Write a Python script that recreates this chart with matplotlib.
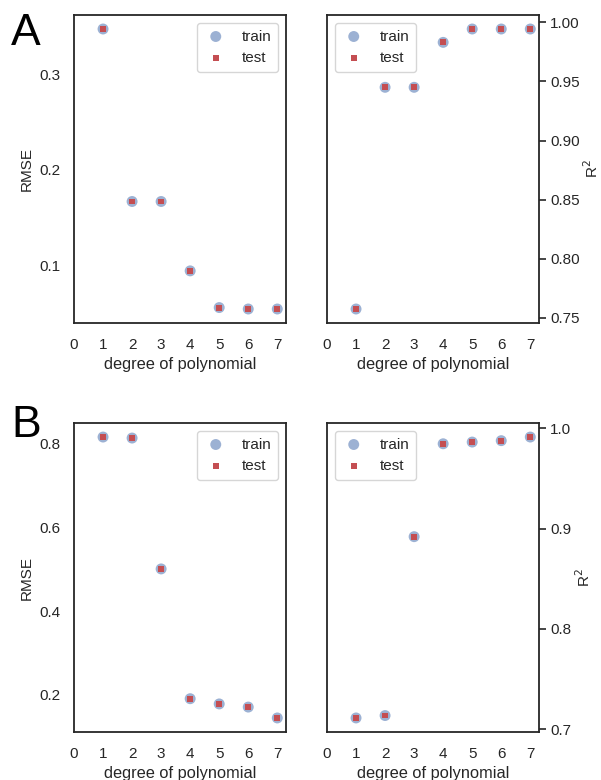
import matplotlib
matplotlib.use("Agg")
import matplotlib.pyplot as plt

plt.rcParams['font.family'] = ['Liberation Sans', 'DejaVu Sans']
plt.rcParams['text.color'] = '#262626'
plt.rcParams['axes.labelcolor'] = '#262626'
plt.rcParams['xtick.color'] = '#262626'
plt.rcParams['ytick.color'] = '#262626'

degree = [1, 2, 3, 4, 5, 6, 7]

# panel A
rmse_a_train = [0.3475, 0.167, 0.167, 0.0944, 0.056, 0.0545, 0.0545]
rmse_a_test = [0.3475, 0.167, 0.167, 0.0944, 0.056, 0.0545, 0.0545]
r2_a_train = [0.7576, 0.945, 0.945, 0.983, 0.9943, 0.9943, 0.9943]
r2_a_test = [0.7576, 0.945, 0.945, 0.983, 0.9943, 0.9943, 0.9943]

# panel B
rmse_b_train = [0.816, 0.8136, 0.501, 0.191, 0.1785, 0.171, 0.145]
rmse_b_test = [0.816, 0.8136, 0.501, 0.191, 0.1785, 0.171, 0.145]
r2_b_train = [0.7113, 0.7137, 0.892, 0.9846, 0.9863, 0.9877, 0.9913]
r2_b_test = [0.7113, 0.7137, 0.892, 0.9846, 0.9863, 0.9877, 0.9913]

r2_a_ticks = [0.75, 0.80, 0.85, 0.90, 0.95, 1.00]
r2_b_ticks = [0.7, 0.8, 0.9, 1.0]

W, H = 601, 780
fig = plt.figure(figsize=(W / 100, H / 100), dpi=100)


def px_axes(x0, y0, x1, y1):
    return fig.add_axes([x0 / W, 1 - y1 / H, (x1 - x0) / W, (y1 - y0) / H])


def panel(ax, train, test, ylabel, right=False):
    ax.scatter(degree, train, s=62, color='#4c72b0', alpha=0.55, edgecolors='none',
               label='train', zorder=2)
    ax.scatter(degree, test, s=18, marker='s', color='#c44e52', edgecolors='none',
               label='test', zorder=3)
    ax.set_xlim(0, 7.3)
    ax.set_xticks(range(8))
    ax.set_xlabel('degree of polynomial', fontsize=11.8)
    ax.tick_params(axis='x', length=0, pad=10.5, labelsize=11)
    for s in ax.spines.values():
        s.set_color('#262626')
        s.set_linewidth(1.3)
    if right:
        ax.yaxis.tick_right()
        ax.yaxis.set_label_position('right')
        ax.tick_params(axis='y', length=5, width=1.2, pad=3, labelsize=11)
        ax.set_ylabel(ylabel, fontsize=11, labelpad=2)
        loc = 'upper left'
    else:
        ax.tick_params(axis='y', length=0, pad=9.5, labelsize=11)
        ax.set_ylabel(ylabel, fontsize=11)
        loc = 'upper right'
    leg = ax.legend(loc=loc, fontsize=11, frameon=True, fancybox=True,
                    handlelength=1.6, handletextpad=0.9, borderpad=0.45)
    leg.get_frame().set_edgecolor('#cccccc')


ax1 = px_axes(74, 15, 286, 323)
panel(ax1, rmse_a_train, rmse_a_test, 'RMSE')
ax1.set_yticks([0.1, 0.2, 0.3])

ax2 = px_axes(327, 15, 539, 323)
panel(ax2, r2_a_train, r2_a_test, 'R$^2$', right=True)
ax2.set_yticks(r2_a_ticks)
ax2.set_yticklabels(['%.2f' % t for t in r2_a_ticks])

ax3 = px_axes(74, 423, 286, 732)
panel(ax3, rmse_b_train, rmse_b_test, 'RMSE')
ax3.set_yticks([0.2, 0.4, 0.6, 0.8])

ax4 = px_axes(327, 423, 539, 732)
panel(ax4, r2_b_train, r2_b_test, 'R$^2$', right=True)
ax4.set_yticks(r2_b_ticks)
ax4.set_yticklabels(['%.1f' % t for t in r2_b_ticks])

fig.text(11 / W, 1 - 13 / H, 'A', fontsize=32, color='black', va='top', ha='left')
fig.text(11 / W, 1 - 405 / H, 'B', fontsize=32, color='black', va='top', ha='left')

fig.savefig('out.png', dpi=100)
